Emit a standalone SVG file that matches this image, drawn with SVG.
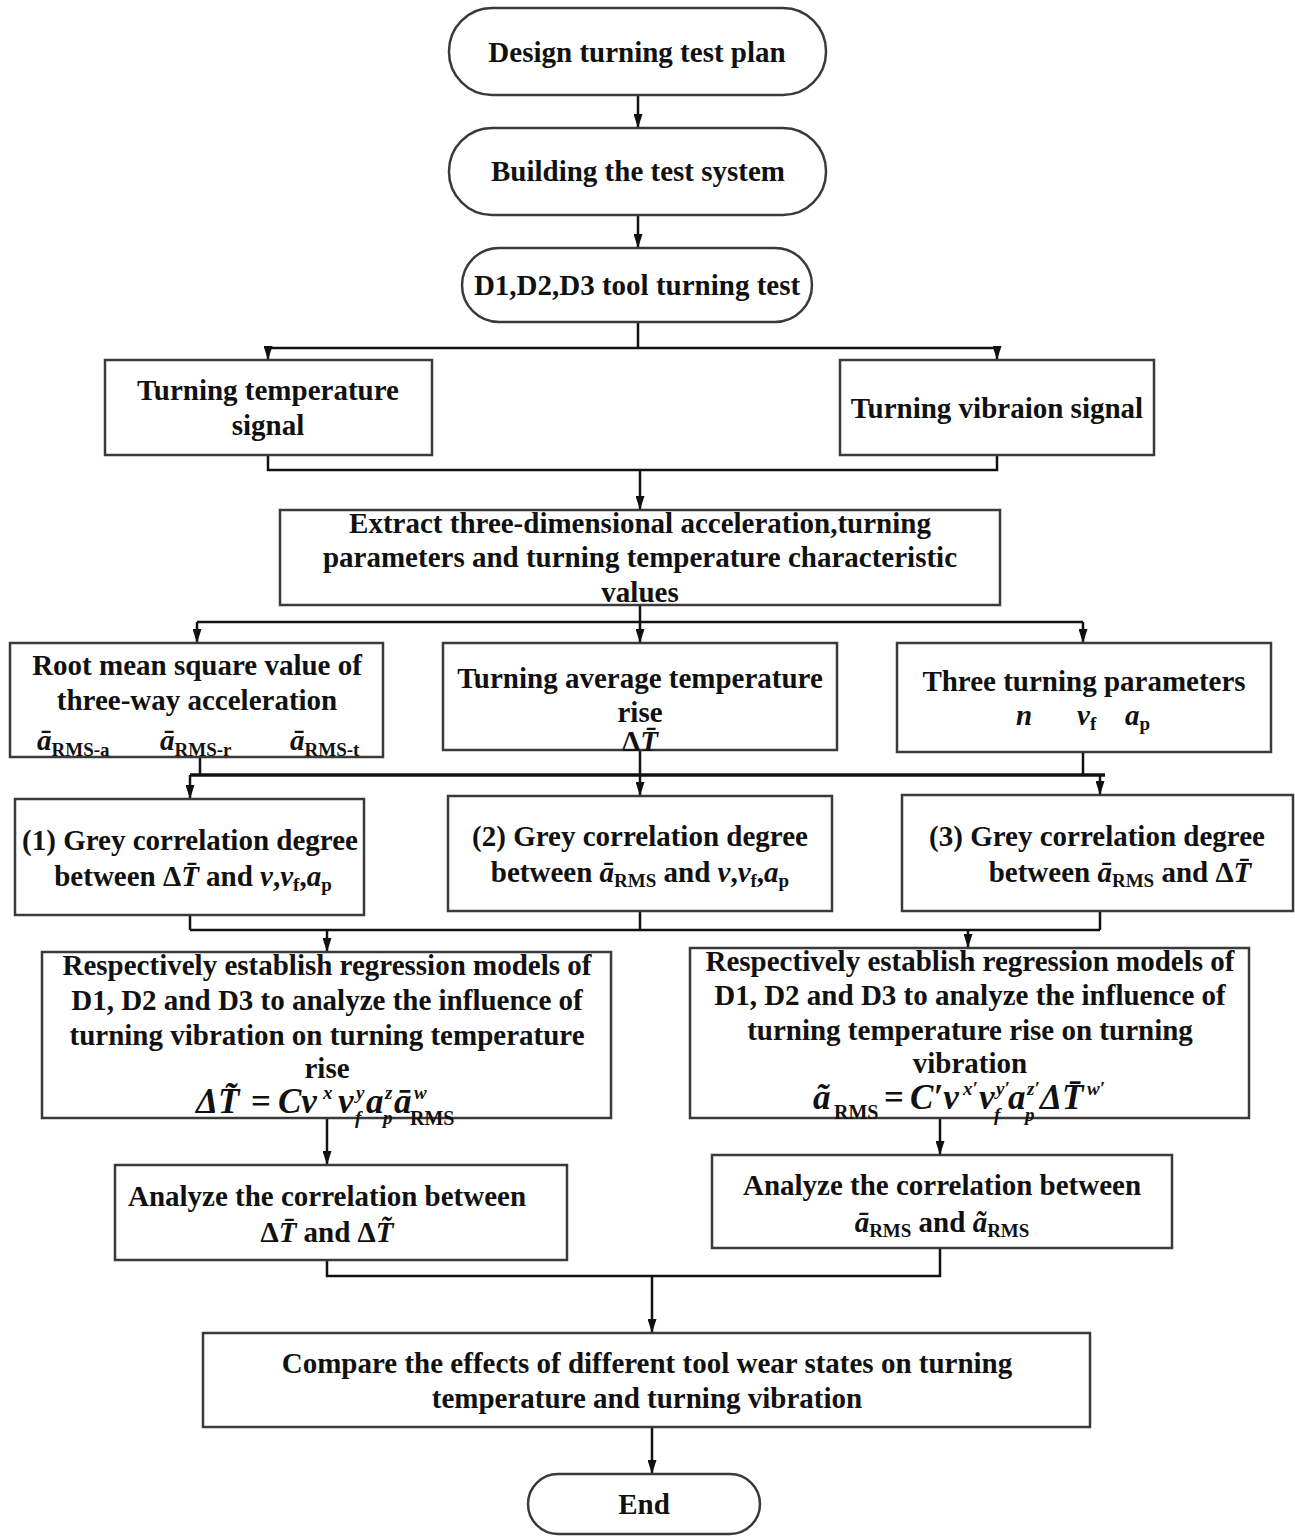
<svg xmlns="http://www.w3.org/2000/svg" width="1295" height="1536" viewBox="0 0 1295 1536">
<style>
.box{fill:#fff;stroke:#3a3a3a;stroke-width:2.5}
.t{font-family:"Liberation Serif","Times New Roman",serif;font-weight:bold;font-size:29px;fill:#111;text-anchor:middle}
.m{font-family:"Liberation Serif","Times New Roman",serif;font-weight:bold;font-size:35px;fill:#111;font-style:italic}
.i{font-style:italic}
.n{font-style:normal}
.s{font-size:19px}
.ss{font-size:19px}
.c{stroke:#111;stroke-width:2.5;fill:none}
.a{stroke:#111;stroke-width:2.5;fill:none;marker-end:url(#ah)}
</style>
<defs>
<marker id="ah" markerUnits="userSpaceOnUse" markerWidth="14" markerHeight="9" refX="14" refY="4.5" orient="auto">
<path d="M0,0 L14,4.5 L0,9 z" fill="#111"/>
</marker>
</defs>
<rect width="1295" height="1536" fill="#fff"/>

<g id="connectors">
<path class="a" d="M638,95 V128"/>
<path class="a" d="M638,215 V248"/>
<path class="c" d="M638,322 V348 M268,348 H997"/>
<path class="a" d="M268,348 V360"/>
<path class="a" d="M997,348 V360"/>
<path class="c" d="M268,455 V470 H997 V455"/>
<path class="a" d="M640,470 V510"/>
<path class="c" d="M640,605 V622 M197,622 H1083"/>
<path class="a" d="M197,622 V643"/>
<path class="a" d="M640,622 V643"/>
<path class="a" d="M1083,622 V643"/>
<path class="c" d="M200,757 V775 M640,750 V775 M1083,752 V775"/>
<path class="c" style="stroke-width:3.5" d="M190,775 H1105"/>
<path class="a" d="M190,775 V799"/>
<path class="a" d="M640,775 V796"/>
<path class="a" d="M1100,775 V795"/>
<path class="c" d="M190,915 V930 M640,911 V930 M1100,911 V930 M190,930 H1100"/>
<path class="a" d="M327,930 V952"/>
<path class="a" d="M968,930 V948"/>
<path class="a" d="M327,1118 V1165"/>
<path class="a" d="M940,1118 V1155"/>
<path class="c" d="M327,1260 V1276 H940 V1248"/>
<path class="a" d="M652,1276 V1333"/>
<path class="a" d="M652,1427 V1474"/>
</g>

<g id="n1"><rect class="box" x="449" y="8" width="377" height="87" rx="43"/><text class="t" x="637" y="62">Design turning test plan</text></g>
<g id="n2"><rect class="box" x="449" y="128" width="377" height="87" rx="43"/><text class="t" x="638" y="181">Building the test system</text></g>
<g id="n3"><rect class="box" x="462" y="248" width="350" height="74" rx="37"/><text class="t" x="637" y="295">D1,D2,D3 tool turning test</text></g>

<g id="n4"><rect class="box" x="105" y="360" width="327" height="95"/><text class="t" x="268" y="400">Turning temperature</text><text class="t" x="268" y="435">signal</text></g>
<g id="n5"><rect class="box" x="840" y="360" width="314" height="95"/><text class="t" x="997" y="418">Turning vibraion signal</text></g>

<g id="n6"><rect class="box" x="280" y="510" width="720" height="95"/>
<text class="t" x="640" y="533">Extract three-dimensional acceleration,turning</text>
<text class="t" x="640" y="567">parameters and turning temperature characteristic</text>
<text class="t" x="640" y="602">values</text></g>

<g id="n7"><rect class="box" x="10" y="643" width="373" height="114"/>
<text class="t" x="197" y="675">Root mean square value of</text>
<text class="t" x="197" y="710">three-way acceleration</text>
<text class="t" x="37" y="750" style="text-anchor:start"><tspan class="i">ā</tspan><tspan class="s" dy="6">RMS-a</tspan></text>
<text class="t" x="160" y="750" style="text-anchor:start"><tspan class="i">ā</tspan><tspan class="s" dy="6">RMS-r</tspan></text>
<text class="t" x="290" y="750" style="text-anchor:start"><tspan class="i">ā</tspan><tspan class="s" dy="6">RMS-t</tspan></text>
</g>

<g id="n8"><rect class="box" x="443" y="643" width="394" height="107"/>
<text class="t" x="640" y="688">Turning average temperature</text>
<text class="t" x="640" y="722">rise</text>
<text class="t" x="640" y="751">Δ<tspan class="i">T̄</tspan></text></g>

<g id="n9"><rect class="box" x="897" y="643" width="374" height="109"/>
<text class="t" x="1084" y="691">Three turning parameters</text>
<text class="t i" x="1024" y="725">n</text>
<text class="t" x="1077" y="725" style="text-anchor:start"><tspan class="i">v</tspan><tspan class="s" dy="5">f</tspan></text>
<text class="t" x="1125" y="725" style="text-anchor:start"><tspan class="i">a</tspan><tspan class="s" dy="5">p</tspan></text>
</g>

<g id="n10"><rect class="box" x="15" y="799" width="349" height="116"/>
<text class="t" x="190" y="850">(1) Grey correlation degree</text>
<text class="t" x="193" y="886">between  Δ<tspan class="i">T̄</tspan>  and <tspan class="i">v</tspan>,<tspan class="i">v</tspan><tspan class="s" dy="5">f</tspan><tspan dy="-5">,</tspan><tspan class="i">a</tspan><tspan class="s" dy="5">p</tspan></text></g>

<g id="n11"><rect class="box" x="448" y="796" width="384" height="115"/>
<text class="t" x="640" y="846">(2) Grey correlation degree</text>
<text class="t" x="640" y="882">between <tspan class="i">ā</tspan><tspan class="s" dy="5">RMS</tspan><tspan dy="-5"> and </tspan><tspan class="i">v</tspan>,<tspan class="i">v</tspan><tspan class="s" dy="5">f</tspan><tspan dy="-5">,</tspan><tspan class="i">a</tspan><tspan class="s" dy="5">p</tspan></text></g>

<g id="n12"><rect class="box" x="902" y="795" width="391" height="116"/>
<text class="t" x="1097" y="846">(3) Grey correlation degree</text>
<text class="t" x="1120" y="882">between <tspan class="i">ā</tspan><tspan class="s" dy="5">RMS</tspan><tspan dy="-5"> and </tspan>Δ<tspan class="i">T̄</tspan></text></g>

<g id="n13"><rect class="box" x="42" y="952" width="569" height="166"/>
<text class="t" x="327" y="975">Respectively establish regression models of</text>
<text class="t" x="327" y="1010">D1, D2 and D3 to analyze the influence of</text>
<text class="t" x="327" y="1045">turning vibration on turning temperature</text>
<text class="t" x="327" y="1078">rise</text>
<text class="m"><tspan x="196" y="1113">ΔT̃</tspan><tspan class="n" x="251" y="1113">=</tspan><tspan x="278" y="1113">Cv</tspan><tspan class="ss" x="323" y="1099">x</tspan><tspan x="338" y="1113">v</tspan><tspan class="ss" x="356" y="1099">y</tspan><tspan class="ss" x="355" y="1124">f</tspan><tspan x="366" y="1113">a</tspan><tspan class="ss" x="385" y="1099">z</tspan><tspan class="ss" x="383" y="1124">p</tspan><tspan x="394" y="1113">ā</tspan><tspan class="ss" x="414" y="1099">w</tspan><tspan class="ss n" x="410" y="1125" style="font-size:20px">RMS</tspan></text>
</g>

<g id="n14"><rect class="box" x="690" y="948" width="559" height="170"/>
<text class="t" x="970" y="971">Respectively establish regression models of</text>
<text class="t" x="970" y="1005">D1, D2 and D3 to analyze the influence of</text>
<text class="t" x="970" y="1040">turning temperature rise on  turning</text>
<text class="t" x="970" y="1073">vibration</text>
<text class="m"><tspan x="813" y="1109">ã</tspan><tspan class="ss n" x="834" y="1119" style="font-size:20px">RMS</tspan><tspan class="n" x="884" y="1109">=</tspan><tspan x="910" y="1109">C′v</tspan><tspan class="ss" x="963" y="1095">x′</tspan><tspan x="979" y="1109">v</tspan><tspan class="ss" x="996" y="1095">y′</tspan><tspan class="ss" x="994" y="1121">f</tspan><tspan x="1008" y="1109">a</tspan><tspan class="ss" x="1027" y="1095">z′</tspan><tspan class="ss" x="1025" y="1121">p</tspan><tspan x="1040" y="1109">Δ</tspan><tspan x="1062" y="1109">T̄</tspan><tspan class="ss" x="1087" y="1095">w′</tspan></text>
</g>

<g id="n15"><rect class="box" x="115" y="1165" width="452" height="95"/>
<text class="t" x="327" y="1206">Analyze the correlation between</text>
<text class="t" x="327" y="1242">Δ<tspan class="i">T̄</tspan> and  Δ<tspan class="i">T̃</tspan></text></g>

<g id="n16"><rect class="box" x="712" y="1155" width="460" height="93"/>
<text class="t" x="942" y="1195">Analyze the correlation between</text>
<text class="t" x="942" y="1232"><tspan class="i">ā</tspan><tspan class="s" dy="5">RMS</tspan><tspan dy="-5"> and </tspan><tspan class="i">ã</tspan><tspan class="s" dy="5">RMS</tspan></text></g>

<g id="n17"><rect class="box" x="203" y="1333" width="887" height="94"/>
<text class="t" x="647" y="1373">Compare the effects of different tool wear states on turning</text>
<text class="t" x="647" y="1408">temperature and turning vibration</text></g>

<g id="n18"><rect class="box" x="528" y="1474" width="232" height="60" rx="30"/><text class="t" x="644" y="1514">End</text></g>
</svg>
